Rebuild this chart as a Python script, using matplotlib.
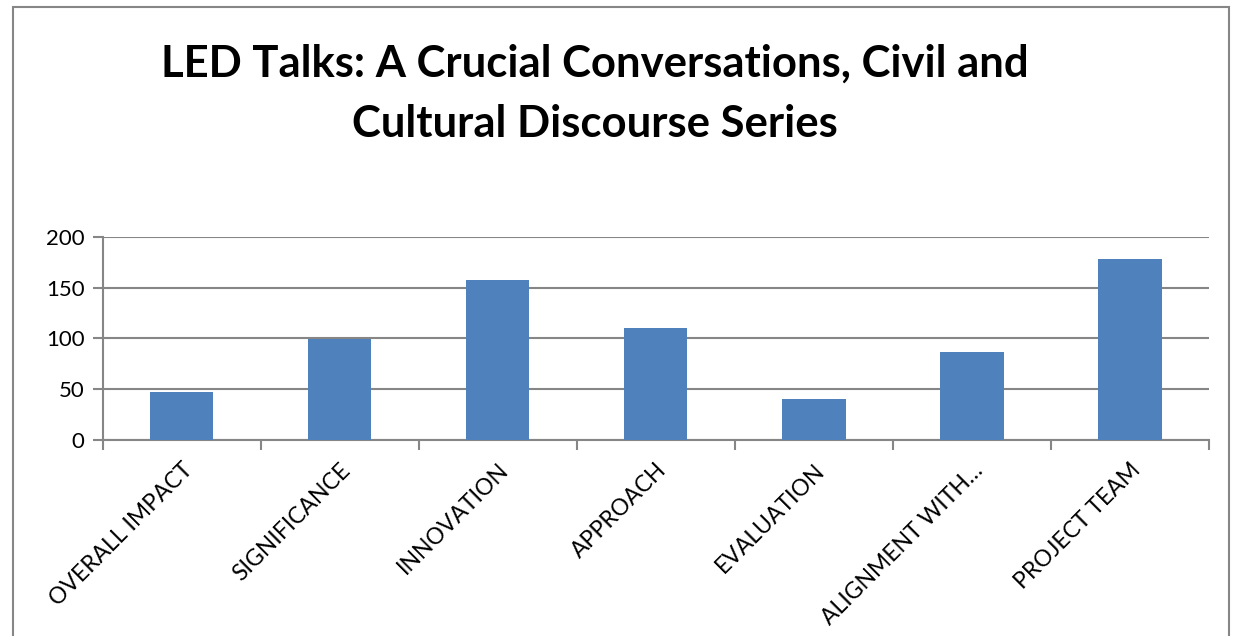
import matplotlib
matplotlib.use("Agg")
import matplotlib.pyplot as plt
from matplotlib.patches import Rectangle
import numpy as np

categories = ["OVERALL IMPACT", "SIGNIFICANCE", "INNOVATION", "APPROACH",
              "EVALUATION", "ALIGNMENT WITH…", "PROJECT TEAM"]
values = [47, 99, 157, 110, 40, 87, 178]
yticks = [0, 50, 100, 150, 200]
title = "LED Talks: A Crucial Conversations, Civil and\nCultural Discourse Series"

plt.rcParams['font.family'] = ['Lato', 'DejaVu Sans']

W, H = 1236, 636
fig = plt.figure(figsize=(W / 100, H / 100), dpi=100)
fig.patch.set_facecolor('white')

grid_c = '#868686'
# chart-area border
fig.add_artist(Rectangle((13 / W, -0.05), (1229 - 13) / W, 1.05 - 7 / H,
                         transform=fig.transFigure, fill=False,
                         edgecolor=grid_c, linewidth=1.5))

ax = fig.add_axes([102.7 / W, 1 - 440 / H, (1209 - 102.7) / W, (440 - 236.7) / H])
x = np.arange(len(categories))
ax.bar(x, values, width=0.4, color='#4F81BD', zorder=3)
ax.set_xlim(-0.5, len(categories) - 0.5)
ax.set_ylim(0, 200)
ax.set_yticks(yticks)
ax.set_yticklabels([str(v) for v in yticks], fontsize=16)
ax.yaxis.grid(True, color=grid_c, linewidth=1.5, zorder=0)
for s in ['top', 'right']:
    ax.spines[s].set_visible(False)
for s in ['left', 'bottom']:
    ax.spines[s].set_color(grid_c)
    ax.spines[s].set_linewidth(1.5)
ax.tick_params(axis='y', length=7, width=1.5, color=grid_c, pad=6)

ax.set_xticks(np.arange(-0.5, len(categories)), minor=True)
ax.tick_params(axis='x', which='minor', length=7, width=1.5, color=grid_c)
ax.set_xticks(x)
ax.set_xticklabels(categories, rotation=45, ha='right', va='top',
                   rotation_mode='anchor', fontsize=16.5)
ax.tick_params(axis='x', which='major', length=0, pad=14)

fig.text(595 / W, 1 - 94 / H, title, ha='center', va='center',
         fontsize=31.4, fontweight='bold', linespacing=1.6)

fig.savefig('out.png', dpi=100)
